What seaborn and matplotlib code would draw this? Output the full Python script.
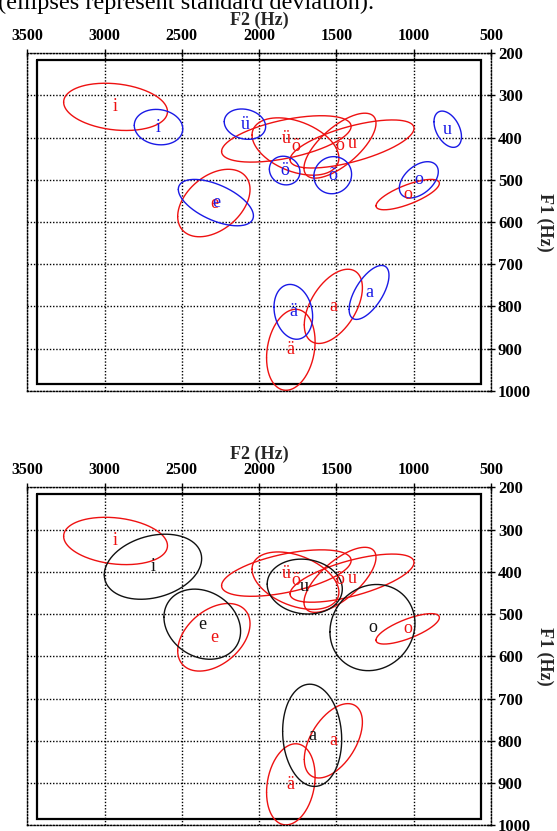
import numpy as np
import pandas as pd
import matplotlib
matplotlib.use("Agg")
import matplotlib.pyplot as plt
import seaborn as sns

# ---------------- data ----------------
vowels_red = ['i', 'e', 'ü', 'ö', 'õ', 'u', 'o', 'a', 'ä']
red_F2 = [2929, 2293, 1824, 1765, 1477, 1399, 1039, 1520, 1795]
red_F1 = [327, 555, 403, 421, 419, 415, 535, 800, 903]
red_sdF2 = [336, 234, 419, 281, 233, 401, 205, 188, 157]
red_sdF1 = [56, 80, 55, 68, 77, 57, 36, 88, 96]
red_rho = [-0.2, 0.4, 0.54, -0.4, 0.69, 0.65, 0.74, 0.5, 0.2]

vowels_blue = ['i', 'e', 'ü', 'ö', 'õ', 'u', 'o', 'a', 'ä']
blue_F2 = [2651, 2280, 2092, 1835, 1524, 780, 967, 1289, 1779]
blue_F1 = [375, 554, 368, 478, 489, 380, 500, 767, 813]
blue_sdF2 = [157, 243, 134, 99, 122, 89, 126, 129, 125]
blue_sdF1 = [42, 55, 36, 34, 44, 43, 43, 64, 65]
blue_rho = [-0.1, -0.57, -0.16, -0.1, 0.05, -0.41, 0.45, 0.63, -0.17]

vowels_black = ['i', 'e', 'u', 'o', 'a']
black_F2 = [2687, 2368, 1705, 1267, 1657]
black_F1 = [388, 524, 435, 532, 787]
black_sdF2 = [315, 248, 243, 275, 191]
black_sdF1 = [77, 83, 65, 102, 121]
black_rho = [0.25, -0.2, -0.09, 0.1, -0.08]

F2_ticks = [3500, 3000, 2500, 2000, 1500, 1000, 500]
F1_ticks = [200, 300, 400, 500, 600, 700, 800, 900, 1000]
box_F2 = [3435, 565]
box_F1 = [216, 984]

colors = {'red': '#ee1111', 'blue': '#1a1ae6', 'black': '#111111'}


def group_frame(name, vowels, F2, F1, s2, s1, rho, n=240):
    rows = []
    t = np.linspace(0, 2 * np.pi, n)
    for v, m2, m1, a, b, r in zip(vowels, F2, F1, s2, s1, rho):
        x = m2 + a * np.cos(t)
        y = m1 + b * (r * np.cos(t) + np.sqrt(1 - r ** 2) * np.sin(t))
        rows.append(pd.DataFrame({'F2': x, 'F1': y, 'group': name,
                                  'key': name + v}))
    return pd.concat(rows, ignore_index=True)


sns.set_theme(style="white")
plt.rcParams['font.family'] = ['Liberation Serif', 'DejaVu Serif']

W, H = 557, 831
fig = plt.figure(figsize=(W / 100, H / 100), dpi=100)

fig.text(-2 / W, 1 - 9 / H, "(ellipses represent standard deviation).",
         fontsize=17.5, ha='left', va='baseline', color='black')

panels = [
    (53.3, 390.7, [('red', vowels_red, red_F2, red_F1, red_sdF2, red_sdF1, red_rho),
                   ('blue', vowels_blue, blue_F2, blue_F1, blue_sdF2, blue_sdF1, blue_rho)]),
    (487.3, 825.3, [('red', vowels_red, red_F2, red_F1, red_sdF2, red_sdF1, red_rho),
                    ('black', vowels_black, black_F2, black_F1, black_sdF2, black_sdF1, black_rho)]),
]

dots = (0, (1, 1.3))
for top, bot, groups in panels:
    left, right = 27.3, 491.0
    ax = fig.add_axes([left / W, 1 - bot / H, (right - left) / W, (bot - top) / H])
    ax.set_xlim(3500, 500)
    ax.set_ylim(1000, 200)
    ax.set_xticks(F2_ticks)
    ax.set_yticks(F1_ticks)
    ax.xaxis.tick_top()
    ax.yaxis.tick_right()
    ax.xaxis.set_label_position('top')
    ax.yaxis.set_label_position('right')
    ax.grid(True, color='black', lw=1.0, linestyle=dots)
    for sp in ax.spines.values():
        sp.set_linestyle(dots)
        sp.set_linewidth(1.0)
        sp.set_color('black')
    ax.tick_params(axis='x', direction='inout', length=6, width=1, pad=4,
                   labelsize=11.5, colors='black')
    ax.tick_params(axis='y', direction='inout', length=6, width=1, pad=2,
                   labelsize=12, colors='black')
    for lab in ax.get_xticklabels() + ax.get_yticklabels():
        lab.set_fontweight('bold')

    # inner solid frame
    bx = [box_F2[0], box_F2[1], box_F2[1], box_F2[0], box_F2[0]]
    by = [box_F1[0], box_F1[0], box_F1[1], box_F1[1], box_F1[0]]
    ax.plot(bx, by, color='black', lw=1.6, solid_joinstyle='miter')

    df = pd.concat([group_frame(*g) for g in groups], ignore_index=True)
    sns.lineplot(data=df, x='F2', y='F1', hue='group', palette=colors,
                 units='key', estimator=None, sort=False, legend=False,
                 lw=1.0, ax=ax)
    for g in groups:
        name, vowels, F2, F1 = g[0], g[1], g[2], g[3]
        for v, x, y in zip(vowels, F2, F1):
            ax.text(x, y, v, color=colors[name], fontsize=13,
                    ha='center', va='center')
    ax.set_xlabel('F2 (Hz)', fontsize=13, fontweight='bold', labelpad=2)
    ax.set_ylabel('F1 (Hz)', fontsize=13, fontweight='bold', rotation=270)
    ax.yaxis.set_label_coords(1.135, 0.5)

fig.savefig("out.png", dpi=100)
